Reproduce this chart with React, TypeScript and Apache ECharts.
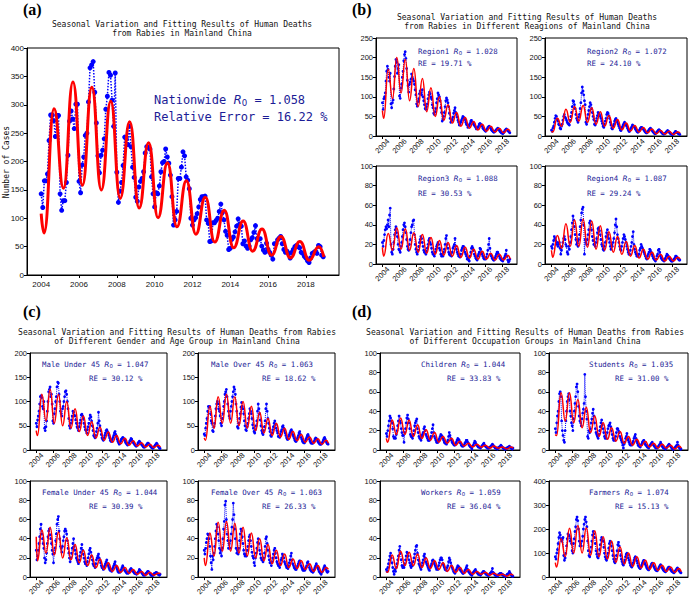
import React, { useEffect, useRef } from 'react';
import * as echarts from 'echarts';

// ---------- data ----------
const X_TICKS = [2004, 2006, 2008, 2010, 2012, 2014, 2016, 2018];
const START_YEAR = 2004;

// times of the fitted-curve nodes (start, troughs / peaks, end)
const FIT_T = [2004.0, 2004.15, 2004.68, 2005.18, 2005.68, 2006.18, 2006.68, 2007.18, 2007.68, 2008.18, 2008.68,
  2009.18, 2009.68, 2010.18, 2010.68, 2011.18, 2011.68, 2012.18, 2012.68, 2013.18, 2013.68, 2014.18, 2014.68,
  2015.18, 2015.68, 2016.18, 2016.68, 2017.18, 2017.68, 2018.18, 2018.68, 2018.95];

const obsNational = [
  143,119,166,166,178,237,282,282,272,244,281,281,
  143,114,131,131,163,211,271,289,275,258,301,301,
  165,145,194,208,246,250,305,365,370,376,322,268,
  210,180,211,220,240,292,315,357,352,308,262,356,
  181,128,148,163,193,243,240,230,262,226,190,172,
  137,130,155,165,170,182,215,226,225,222,173,143,
  120,145,143,157,182,198,200,222,208,197,176,138,
  88,97,112,170,170,190,217,210,173,167,152,100,
  88,97,101,108,120,133,138,138,139,97,91,59,
  60,92,92,96,100,112,125,110,97,77,70,45,
  47,63,67,76,86,99,90,86,55,60,51,47,
  51,62,66,75,87,64,63,64,51,44,40,56,
  45,40,35,28,55,55,62,65,68,55,45,40,
  42,38,30,40,45,50,52,50,48,40,38,33,
  30,25,22,30,38,40,42,38,52,50,35,32];
const fitNational = [108,74,293,153,340,158,331,150,306,135,270,118,233,101,198,85,166,72,137,58,114,48,95,42,81,35,68,30,59,26,50,32];

const obsRegion1 = [
  85,68,95,100,110,140,165,178,170,150,140,160,
  82,72,85,92,120,152,178,195,188,160,172,182,
  102,96,122,132,150,165,192,208,215,198,172,142,
  128,112,132,138,145,158,150,145,140,132,118,105,
  82,76,88,95,108,115,110,105,118,100,90,80,
  70,68,75,82,95,105,112,108,100,95,80,72,
  58,55,62,70,85,95,110,105,100,90,72,60,
  38,42,50,60,75,90,97,92,85,75,58,45,
  35,38,42,48,58,65,72,60,55,48,40,35,
  28,30,35,40,45,50,48,45,42,35,30,28,
  22,25,28,32,38,40,36,34,30,28,25,22,
  18,20,22,25,30,32,30,28,25,20,18,16,
  14,12,15,18,22,24,25,22,20,16,14,12,
  10,10,12,14,16,18,20,18,15,12,10,8,
  8,6,8,10,14,16,18,16,14,12,10,8];
const fitRegion1 = [65,45,170,95,200,110,195,90,172,75,147,62,123,50,100,40,80,33,60,25,47,20,37,15,30,12,25,10,20,8,17,12];

const obsRegion2 = [
  15,12,20,25,35,45,52,50,42,38,30,28,
  20,18,25,30,40,50,55,48,45,40,35,32,
  30,28,40,50,60,75,90,88,80,70,55,45,
  40,35,48,55,70,85,110,125,115,105,90,80,
  35,30,45,55,65,75,85,80,70,60,50,42,
  30,28,38,45,52,60,58,55,50,45,38,32,
  25,22,30,38,45,55,60,58,52,45,35,28,
  20,18,25,30,38,42,45,40,35,30,25,20,
  15,14,20,24,28,32,35,30,28,25,20,16,
  12,12,16,20,24,28,26,24,22,18,15,12,
  10,10,13,16,20,22,22,20,18,15,12,10,
  8,8,10,13,16,18,20,18,15,12,10,8,
  6,6,8,10,12,15,16,14,12,10,8,6,
  5,5,6,8,10,12,14,12,10,8,6,5,
  4,4,5,7,9,12,10,9,8,6,5,4];
const fitRegion2 = [12,10,45,25,68,35,75,38,78,35,72,30,62,25,52,20,42,16,33,13,27,10,22,8,18,6,14,5,12,4,10,7];

const obsRegion3 = [
  22,18,24,30,35,38,36,40,45,38,50,57,
  20,12,10,15,22,30,35,38,32,28,20,15,
  14,12,18,22,28,35,40,42,38,32,25,18,
  15,14,20,25,32,38,40,44,45,30,20,15,
  12,10,14,18,22,25,28,26,22,18,14,12,
  12,10,13,16,20,24,26,22,20,16,12,10,
  10,8,12,15,18,20,22,20,16,14,10,8,
  10,8,12,15,20,26,29,20,16,12,10,9,
  10,8,12,16,18,20,26,18,15,12,10,8,
  8,7,10,14,16,18,18,15,12,10,8,5,
  6,4,3,8,12,16,18,16,14,10,8,6,
  5,4,8,10,12,16,15,12,10,8,6,5,
  6,5,7,10,14,20,26,16,10,8,6,5,
  4,4,6,8,10,12,12,10,8,6,5,4,
  4,3,5,6,8,10,14,8,4,2,3,5];
const fitRegion3 = [17,8,31,14,37,15,36,14,32,12,30,11,27,10,24,9,22,8,19,7,17,6,15,5,13,5,11,4,10,4,9,5];

const obsRegion4 = [
  18,16,20,24,28,26,24,20,22,18,20,22,
  16,10,14,18,22,26,28,25,20,18,12,10,
  18,15,22,28,35,42,49,45,38,30,25,20,
  22,18,25,30,38,45,52,56,58,40,10,25,
  22,20,25,30,35,42,44,40,35,28,24,20,
  20,18,22,26,32,36,37,34,30,25,20,18,
  15,14,18,22,28,32,35,30,26,22,18,15,
  20,18,22,26,32,40,46,38,30,26,22,18,
  15,14,18,22,26,30,28,25,22,18,15,12,
  10,10,14,18,22,28,33,20,15,12,10,8,
  8,8,10,14,16,20,18,16,14,12,10,8,
  6,5,8,10,12,15,14,12,10,8,6,5,
  4,3,5,8,10,14,15,12,8,6,5,4,
  4,3,5,6,8,10,9,8,6,5,4,3,
  3,3,4,5,6,8,8,7,6,5,4,4];
const fitRegion4 = [14,7,29,16,41,18,45,18,46,17,44,15,39,14,33,12,28,10,23,8,19,6,15,5,12,4,10,3,8,3,7,5];

const obsMaleU45 = [
  55,48,62,70,80,95,110,112,108,90,85,100,
  45,40,48,60,80,100,120,125,130,110,115,95,
  60,55,75,85,100,110,130,140,138,115,100,80,
  75,70,85,90,100,110,120,122,115,100,85,65,
  50,45,55,62,70,80,78,72,70,62,55,48,
  45,40,48,55,62,72,74,70,65,55,48,42,
  40,35,42,48,55,65,72,68,60,50,40,30,
  28,25,30,38,45,55,78,60,50,40,32,25,
  22,20,25,30,35,40,42,38,35,30,25,20,
  18,18,22,26,30,35,38,32,28,22,18,15,
  12,14,18,22,24,26,25,22,20,16,14,12,
  10,12,14,18,20,24,22,18,16,14,12,10,
  8,8,10,14,16,18,16,14,12,10,8,6,
  6,6,8,10,12,14,14,12,10,8,6,5,
  4,4,6,8,10,12,14,12,8,6,4,3];
const fitMaleU45 = [40,30,115,60,125,55,115,50,100,45,85,38,70,30,58,25,47,20,37,16,30,13,24,10,19,8,15,6,12,5,10,6];

const obsMaleO45 = [
  33,30,45,55,65,80,90,88,90,75,60,55,
  40,38,48,55,70,85,95,100,95,85,80,70,
  55,50,65,75,90,100,115,120,125,110,95,80,
  70,65,80,90,100,110,120,130,125,115,95,80,
  48,45,55,65,75,88,98,90,85,75,60,50,
  42,40,48,55,65,75,85,80,75,65,52,45,
  38,35,42,50,60,80,95,85,75,62,50,40,
  35,32,40,48,60,85,95,80,65,55,45,38,
  30,28,35,42,48,55,60,52,45,40,35,28,
  28,26,32,38,42,48,50,45,40,35,30,25,
  22,22,28,32,36,40,42,38,32,28,24,20,
  18,18,22,26,30,35,38,32,26,22,18,16,
  15,15,18,22,26,30,32,28,22,18,15,14,
  14,14,16,18,22,25,24,22,18,16,14,12,
  12,12,14,16,20,24,26,22,18,15,13,12];
const fitMaleO45 = [25,20,90,45,110,55,115,55,110,50,100,45,90,40,78,35,65,30,55,27,45,22,38,19,32,16,27,14,23,12,20,14];

const obsFemaleU45 = [
  28,18,22,28,35,42,50,55,45,40,35,30,
  20,15,18,25,35,42,48,50,44,40,35,28,
  24,15,25,30,38,45,55,60,63,48,40,32,
  30,26,32,38,42,48,50,48,45,38,30,25,
  20,16,20,25,30,35,40,32,28,24,20,18,
  16,14,18,22,26,30,34,28,24,20,16,14,
  14,12,16,20,24,28,30,26,22,18,14,12,
  12,10,14,18,20,22,24,20,18,15,12,10,
  10,8,10,12,14,16,18,14,12,10,8,7,
  8,6,8,10,12,14,16,12,10,8,6,5,
  6,5,6,8,10,12,10,8,7,6,5,4,
  5,4,5,7,8,9,8,7,6,5,4,4,
  4,3,4,5,6,8,7,6,5,4,3,2,
  3,2,3,4,5,6,6,5,4,3,2,2,
  2,2,3,4,4,5,5,4,3,3,2,3];
const fitFemaleU45 = [42,17,49,25,52,23,47,20,41,18,34,15,28,12,23,10,19,8,15,6,12,5,10,4,8,3,6,2,5,2,4,4];

const obsFemaleO45 = [
  28,24,30,36,40,45,44,40,32,22,15,8,
  22,18,25,32,40,48,55,52,45,38,30,25,
  28,22,30,40,50,58,75,79,60,45,38,30,
  35,30,38,45,52,60,77,65,50,40,30,25,
  28,24,30,38,45,50,48,42,35,28,24,22,
  24,22,28,32,38,42,44,38,32,26,22,20,
  15,12,20,25,30,36,40,35,28,24,20,18,
  18,16,20,25,32,40,42,35,28,22,18,15,
  15,12,16,20,24,28,30,25,20,16,14,12,
  12,10,14,18,20,24,22,20,16,14,12,10,
  10,9,12,15,18,22,25,18,14,12,10,9,
  8,8,10,12,14,16,17,15,12,10,8,7,
  8,7,8,10,12,15,16,13,10,8,7,6,
  6,5,6,8,10,12,14,12,10,8,6,5,
  4,3,5,6,8,10,12,10,8,6,5,6];
const fitFemaleO45 = [20,12,46,22,57,27,58,27,56,25,52,22,46,20,40,17,34,14,28,12,24,10,19,9,17,8,14,6,12,5,10,8];

const obsChildren = [
  17,14,20,25,30,35,33,30,28,22,14,12,
  13,12,16,20,25,30,35,30,28,22,18,15,
  15,8,18,22,28,33,36,32,28,22,16,14,
  14,12,16,20,25,28,30,32,22,18,14,12,
  12,10,14,16,18,22,24,20,16,14,12,10,
  10,10,12,14,18,22,26,18,14,12,10,8,
  8,8,10,12,14,16,15,14,12,10,8,7,
  7,6,8,10,14,18,15,12,10,8,7,6,
  5,5,6,8,10,12,11,10,8,7,5,4,
  4,4,5,7,8,10,10,8,7,5,4,3,
  3,1,4,5,7,9,8,6,5,4,3,3,
  3,2,3,4,5,6,7,5,4,3,3,2,
  2,2,3,3,4,5,6,5,4,3,2,2,
  2,1,2,3,3,4,5,4,3,2,2,1,
  1,1,2,2,3,3,4,3,2,2,1,2];
const fitChildren = [12,8,31,16,33,16,31,14,26,12,21,10,18,8,14,7,12,5,9,4,7,3,6,3,5,2,4,2,3,1,3,2];

const obsStudents = [
  22,18,28,35,40,50,58,60,55,30,20,15,
  10,8,20,30,40,50,55,58,52,40,35,28,
  25,20,32,40,48,55,65,68,60,45,35,30,
  28,25,32,38,42,48,78,55,40,32,14,12,
  20,18,22,28,32,38,42,35,28,22,18,16,
  14,12,16,20,24,28,31,26,22,18,14,12,
  15,12,18,22,25,26,28,24,20,16,12,10,
  12,10,14,18,22,22,20,18,14,12,10,8,
  5,2,6,8,12,14,17,12,10,8,6,5,
  6,5,7,9,12,14,16,12,9,7,5,4,
  4,3,5,6,8,9,10,8,6,5,4,3,
  3,2,4,5,6,7,8,6,5,4,3,2,
  3,2,3,4,5,6,8,6,4,3,2,2,
  2,1,2,3,4,5,6,5,4,3,2,1,
  1,1,2,3,4,5,8,5,3,2,1,1];
const fitStudents = [16,15,59,30,59,28,52,23,44,18,35,14,28,11,23,9,19,7,14,5,11,4,9,3,7,2,6,2,5,1,4,2];

const obsWorkers = [
  8,6,10,14,18,22,25,20,15,10,6,3,
  8,6,10,14,18,22,28,32,25,18,12,10,
  12,10,14,18,22,26,25,22,18,15,12,10,
  14,12,16,20,24,28,32,33,25,18,14,12,
  10,8,12,15,18,22,24,20,16,14,12,10,
  8,7,10,12,14,17,18,16,14,12,10,8,
  10,8,12,15,18,20,20,18,14,12,10,8,
  8,7,10,12,16,20,18,15,12,10,8,6,
  5,4,6,8,10,12,11,10,8,7,6,5,
  4,4,5,7,8,10,12,8,6,5,4,3,
  3,2,4,5,6,7,8,6,5,4,3,3,
  3,2,3,4,5,6,6,5,4,3,3,2,
  2,2,3,4,5,6,9,5,4,3,2,2,
  2,1,2,3,3,4,4,3,3,2,2,1,
  1,1,2,3,3,4,6,4,3,2,1,1];
const fitWorkers = [6,5,23,9,27,12,26,12,24,10,20,9,17,8,15,6,12,5,10,4,8,3,6,3,5,2,4,2,3,1,3,2];

const obsFarmers = [
  85,75,100,115,140,165,185,175,160,150,160,165,
  90,70,80,100,130,160,180,175,170,150,160,140,
  110,100,140,160,190,210,240,250,235,200,150,130,
  140,130,150,170,200,220,240,250,230,210,150,110,
  90,85,105,125,150,175,190,180,165,140,110,95,
  85,80,95,115,135,155,165,160,150,125,100,85,
  75,70,85,100,120,140,150,145,130,110,90,75,
  65,60,75,90,110,135,145,130,110,90,75,65,
  55,50,60,72,85,95,100,92,80,70,60,50,
  45,42,50,60,70,80,85,78,68,58,48,42,
  38,36,42,50,58,65,70,62,55,48,40,36,
  32,30,36,42,48,55,58,52,45,40,34,30,
  28,26,30,36,42,48,52,46,40,34,30,26,
  24,22,26,30,36,40,42,38,32,28,24,22,
  20,18,22,26,30,35,38,34,28,24,20,18];
const fitFarmers = [60,42,160,85,203,100,215,100,205,90,193,85,168,75,150,62,125,55,100,45,85,38,70,32,60,28,50,24,42,20,36,22];

// ---------- layout ----------
type Panel = {
  obs: number[]; fit: number[]; rect: [number, number, number, number];
  yMax: number; yStep: number; big?: boolean;
  name: string; r0: string; re: string; tx: number; ty: number; rx: number; ry: number;
};

const PANELS: Panel[] = [
  { obs: obsNational, fit: fitNational, rect: [27, 48, 312, 227], yMax: 400, yStep: 50, big: true,
    name: 'Nationwide', r0: '1.058', re: 'Relative Error = 16.22 %', tx: 154, ty: 100, rx: 154, ry: 117 },
  { obs: obsRegion1, fit: fitRegion1, rect: [376, 38, 141, 98], yMax: 250, yStep: 50,
    name: 'Region1', r0: '1.028', re: 'RE = 19.71 %', tx: 418, ty: 51, rx: 418, ry: 63 },
  { obs: obsRegion2, fit: fitRegion2, rect: [545, 38, 142, 98], yMax: 250, yStep: 50,
    name: 'Region2', r0: '1.072', re: 'RE = 24.10 %', tx: 587, ty: 51, rx: 587, ry: 63 },
  { obs: obsRegion3, fit: fitRegion3, rect: [376, 166, 141, 98], yMax: 100, yStep: 20,
    name: 'Region3', r0: '1.088', re: 'RE = 30.53 %', tx: 418, ty: 178, rx: 418, ry: 193 },
  { obs: obsRegion4, fit: fitRegion4, rect: [545, 166, 142, 98], yMax: 100, yStep: 20,
    name: 'Region4', r0: '1.087', re: 'RE = 29.24 %', tx: 587, ty: 178, rx: 587, ry: 193 },
  { obs: obsMaleU45, fit: fitMaleU45, rect: [30, 353, 137, 97], yMax: 200, yStep: 50,
    name: 'Male Under 45', r0: '1.047', re: 'RE = 30.12 %', tx: 42, ty: 364, rx: 89, ry: 378 },
  { obs: obsMaleO45, fit: fitMaleO45, rect: [198, 353, 137, 97], yMax: 200, yStep: 50,
    name: 'Male Over 45', r0: '1.063', re: 'RE = 18.62 %', tx: 211, ty: 364, rx: 262, ry: 378 },
  { obs: obsFemaleU45, fit: fitFemaleU45, rect: [30, 481, 137, 97], yMax: 100, yStep: 20,
    name: 'Female Under 45', r0: '1.044', re: 'RE = 30.39 %', tx: 42, ty: 492, rx: 89, ry: 506 },
  { obs: obsFemaleO45, fit: fitFemaleO45, rect: [198, 481, 137, 97], yMax: 100, yStep: 20,
    name: 'Female Over 45', r0: '1.063', re: 'RE = 26.33 %', tx: 211, ty: 492, rx: 262, ry: 506 },
  { obs: obsChildren, fit: fitChildren, rect: [380, 353, 140, 97], yMax: 100, yStep: 20,
    name: 'Children', r0: '1.044', re: 'RE = 33.83 %', tx: 421, ty: 364, rx: 447, ry: 378 },
  { obs: obsStudents, fit: fitStudents, rect: [549, 353, 139, 97], yMax: 100, yStep: 20,
    name: 'Students', r0: '1.035', re: 'RE = 31.00 %', tx: 589, ty: 364, rx: 615, ry: 378 },
  { obs: obsWorkers, fit: fitWorkers, rect: [380, 481, 140, 97], yMax: 100, yStep: 20,
    name: 'Workers', r0: '1.059', re: 'RE = 36.04 %', tx: 421, ty: 492, rx: 447, ry: 506 },
  { obs: obsFarmers, fit: fitFarmers, rect: [549, 481, 139, 97], yMax: 400, yStep: 100,
    name: 'Farmers', r0: '1.074', re: 'RE = 15.13 %', tx: 589, ty: 492, rx: 615, ry: 506 },
];

const MONO = '"DejaVu Sans Mono", monospace';
const SANS = '"Liberation Sans", Arial, sans-serif';
const TXT_BLUE = '#1c1c96';
const yearFmt = (v: number) => String(Math.round(v));

function buildOption() {
  const grid: any[] = [], xAxis: any[] = [], yAxis: any[] = [], series: any[] = [], graphic: any[] = [];
  PANELS.forEach((p, k) => {
    const [l, t, w, h] = p.rect;
    grid.push({ left: l, top: t, width: w, height: h, show: true, borderColor: '#000', borderWidth: 1, containLabel: false });
    xAxis.push({
      type: 'value', gridIndex: k, min: 2003.25, max: 2019.75,
      axisLine: { show: true, onZero: false, lineStyle: { color: '#000', width: 1 } },
      axisTick: { show: true, length: 3, customValues: X_TICKS, lineStyle: { color: '#000' } },
      axisLabel: p.big
        ? { customValues: X_TICKS, formatter: yearFmt, fontSize: 8, fontFamily: SANS, color: '#111', margin: 5 }
        : { customValues: X_TICKS, formatter: yearFmt, fontSize: 7.5, fontFamily: SANS, color: '#111', rotate: 45, align: 'center', verticalAlign: 'middle', margin: 10 },
      splitLine: { show: false },
    });
    yAxis.push({
      type: 'value', gridIndex: k, min: 0, max: p.yMax, interval: p.yStep,
      axisLine: { show: true, lineStyle: { color: '#000', width: 1 } },
      axisTick: { show: true, length: 3, lineStyle: { color: '#000' } },
      axisLabel: { fontSize: p.big ? 8 : 7.5, fontFamily: SANS, color: '#111', margin: 3 },
      splitLine: { show: false },
    });
    series.push({
      type: 'line', xAxisIndex: k, yAxisIndex: k, silent: true,
      data: p.obs.map((v, i) => [START_YEAR + i / 12, v]),
      symbol: 'circle', symbolSize: p.big ? 5 : 2.8, showAllSymbol: true,
      lineStyle: { color: '#0000ff', width: p.big ? 1.5 : 1, type: 'dotted' },
      itemStyle: { color: '#0000ff' }, z: 2,
    });
    series.push({
      type: 'line', xAxisIndex: k, yAxisIndex: k, silent: true,
      data: FIT_T.map((tt, i) => [tt, p.fit[i]]),
      smooth: 0.5, smoothMonotone: 'x', symbol: 'none',
      lineStyle: { color: '#ff0000', width: p.big ? 3 : 1.5 }, z: 3,
    });
    const fs = p.big ? 12 : 7.4;
    graphic.push({
      type: 'text', x: p.tx, y: p.ty, z: 10,
      style: {
        text: `{n|${p.name} }{i|R}{s|0}{n| = ${p.r0}}`,
        verticalAlign: 'middle',
        rich: {
          n: { fontFamily: MONO, fontSize: fs, fill: TXT_BLUE, verticalAlign: 'middle', lineHeight: fs * 1.3 },
          i: { fontFamily: '"DejaVu Sans"', fontStyle: 'italic', fontSize: fs, fill: TXT_BLUE, verticalAlign: 'middle', lineHeight: fs * 1.3 },
          s: { fontFamily: '"DejaVu Sans"', fontSize: fs * 0.72, fill: TXT_BLUE, verticalAlign: 'bottom', lineHeight: fs * 0.6 },
        },
      },
    });
    graphic.push({
      type: 'text', x: p.rx, y: p.ry, z: 10,
      style: { text: p.re, fontFamily: MONO, fontSize: fs, fill: TXT_BLUE, verticalAlign: 'middle' },
    });
  });

  const titles: [number, number, string[]][] = [
    [182, 24, ['Seasonal Variation and Fitting Results of Human Deaths', 'from Rabies in Mainland China']],
    [527, 17, ['Seasonal Variation and Fitting Results of Human Deaths', 'from Rabies in Different Reagions of Mainland China']],
    [177, 332, ['Seasonal Variation and Fitting Results of Human Deaths from Rabies', 'of Different Gender and Age Group in Mainland China']],
    [525, 332, ['Seasonal Variation and Fitting Results of Human Deaths from Rabies', 'of Different Occupation Groups in Mainland China']],
  ];
  titles.forEach(([cx, cy, lines]) => {
    lines.forEach((ln, j) => {
      graphic.push({ type: 'text', x: cx, y: cy + j * 9.5, style: { text: ln, fontFamily: MONO, fontSize: 8, fill: '#111', align: 'center', verticalAlign: 'middle' } });
    });
  });
  const tags: [number, number, string][] = [[23, 9, '(a)'], [352, 9, '(b)'], [23, 311, '(c)'], [352, 311, '(d)']];
  tags.forEach(([x, y, s]) => {
    graphic.push({ type: 'text', x, y, style: { text: s, fontFamily: '"Liberation Serif", serif', fontWeight: 'bold', fontSize: 16, fill: '#000', verticalAlign: 'middle' } });
  });
  graphic.push({ type: 'text', x: 6, y: 162, rotation: Math.PI / 2, style: { text: 'Number of Cases', fontFamily: MONO, fontSize: 8, fill: '#111', align: 'center', verticalAlign: 'middle' } });

  return { animation: false, backgroundColor: '#fff', grid, xAxis, yAxis, series, graphic };
}

export default function App() {
  const ref = useRef<HTMLDivElement>(null);
  useEffect(() => {
    if (!ref.current) return;
    const chart = echarts.init(ref.current, undefined, { renderer: 'svg' });
    chart.setOption(buildOption() as any);
    return () => chart.dispose();
  }, []);
  return <div ref={ref} style={{ position: 'fixed', left: 0, top: 0, width: 690, height: 598, background: '#fff' }} />;
}
